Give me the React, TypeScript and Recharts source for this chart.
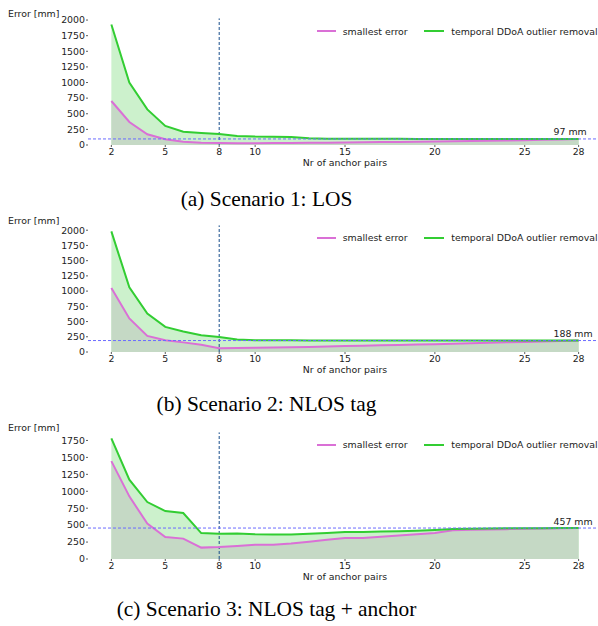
import React from 'react';
import { ComposedChart, Area, Line, XAxis, YAxis, ReferenceLine, ReferenceDot, Legend } from 'recharts';

const anchorPairs = [2, 3, 4, 5, 6, 7, 8, 9, 10, 11, 12, 13, 14, 15, 16, 17, 18, 19, 20, 21, 22, 23, 24, 25, 26, 27, 28];
const xTicks = [2, 5, 8, 10, 15, 20, 25, 28];
const yTicksA = [0, 250, 500, 750, 1000, 1250, 1500, 1750, 2000];
const yTicksC = [0, 250, 500, 750, 1000, 1250, 1500, 1750];

// Scenario 1: LOS
const s1Smallest = [704, 368, 171, 91, 53, 38, 32, 30, 30, 31, 33, 35, 38, 40, 44, 47, 50, 53, 56, 60, 64, 68, 72, 77, 83, 90, 97];
const s1Temporal = [1930, 1000, 570, 305, 212, 192, 176, 145, 135, 132, 128, 108, 102, 100, 100, 99, 99, 98, 98, 98, 97, 97, 97, 97, 97, 97, 97];
const s1Threshold = 97;

// Scenario 2: NLOS tag
const s2Smallest = [1050, 551, 264, 192, 158, 120, 62, 64, 70, 73, 76, 82, 90, 99, 104, 110, 116, 122, 128, 136, 144, 152, 160, 166, 174, 181, 188];
const s2Temporal = [1980, 1061, 632, 412, 338, 275, 246, 204, 194, 192, 191, 190, 189, 189, 188, 188, 188, 188, 188, 188, 188, 188, 188, 188, 188, 188, 188];
const s2Threshold = 188;

// Scenario 3: NLOS tag + anchor
const s3Smallest = [1445, 925, 522, 325, 301, 168, 176, 192, 212, 212, 228, 255, 283, 310, 310, 328, 346, 364, 383, 423, 430, 436, 441, 446, 450, 454, 457];
const s3Temporal = [1780, 1171, 841, 708, 678, 383, 374, 375, 364, 360, 362, 372, 384, 398, 400, 405, 410, 418, 428, 442, 448, 451, 453, 454, 455, 456, 457];
const s3Threshold = 457;

const captions = ['(a) Scenario 1: LOS', '(b) Scenario 2: NLOS tag', '(c) Scenario 3: NLOS tag + anchor'];
const seriesNames = ['smallest error', 'temporal DDoA outlier removal'];

const GREEN = '#32cd32';
const MAGENTA = '#da70d6';
const GREEN_FILL = '#ccf1cc';
const LOW_FILL = '#c5d9c5';
const TEXT = '#222';
const FS = 9.4;

type PanelProps = {
  smallest: number[];
  temporal: number[];
  threshold: number;
  yTicks: number[];
  top: number;
};

const LegendContent = () => (
  <div style={{ position: 'relative', width: 610, height: 0, fontSize: FS, color: TEXT, fontFamily: 'DejaVu Sans' }}>
    <span style={{ position: 'absolute', left: 316.7, top: 30, width: 19, height: 2, background: MAGENTA }} />
    <span style={{ position: 'absolute', left: 342.7, top: 24.5, whiteSpace: 'nowrap', lineHeight: '13px' }}>{seriesNames[0]}</span>
    <span style={{ position: 'absolute', left: 424.3, top: 30, width: 20, height: 2, background: GREEN }} />
    <span style={{ position: 'absolute', left: 451.3, top: 24.5, whiteSpace: 'nowrap', lineHeight: '13px' }}>{seriesNames[1]}</span>
  </div>
);

const Panel = ({ smallest, temporal, threshold, yTicks, top }: PanelProps) => {
  const data = anchorPairs.map((x, i) => ({ x, smallest: smallest[i], temporal: temporal[i] }));
  const yMax = Math.max(...temporal) * 1.05;
  return (
    <div style={{ position: 'absolute', left: 0, top, width: 598, height: 180, overflow: 'hidden' }}>
      <ComposedChart width={610} height={180} data={data} margin={{ top: 18.4, right: 8, bottom: 0, left: 0 }}>
        <XAxis
          type="number"
          dataKey="x"
          domain={[0.7, 29.3]}
          ticks={xTicks}
          interval={0}
          axisLine={false}
          tickSize={2}
          tickMargin={1.3}
          tickLine={{ stroke: '#333', strokeWidth: 0.8 }}
          tick={{ fill: TEXT, fontSize: FS }}
          height={35}
          label={{ value: 'Nr of anchor pairs', position: 'insideBottom', offset: 14, fill: TEXT, fontSize: FS }}
        />
        <YAxis
          type="number"
          domain={[0, yMax]}
          ticks={yTicks}
          interval={0}
          width={88}
          axisLine={false}
          tickSize={2}
          tickMargin={1}
          tickLine={{ stroke: '#333', strokeWidth: 0.8 }}
          tick={{ fill: TEXT, fontSize: FS }}
          label={({ viewBox }: any) => (
            <text x={viewBox.x + 8} y={viewBox.y - 1.4} fill={TEXT} fontSize={FS}>Error [mm]</text>
          )}
        />
        <Area type="linear" dataKey="temporal" fill={GREEN_FILL} fillOpacity={1} stroke="none" isAnimationActive={false} legendType="none" />
        <Area type="linear" dataKey="smallest" fill={LOW_FILL} fillOpacity={1} stroke="none" isAnimationActive={false} legendType="none" />
        <ReferenceLine x={8} stroke="#1a4f8c" strokeWidth={1} strokeDasharray="3 2" />
        <Line type="linear" dataKey="smallest" name={seriesNames[0]} stroke={MAGENTA} strokeWidth={2} dot={false} isAnimationActive={false} />
        <Line type="linear" dataKey="temporal" name={seriesNames[1]} stroke={GREEN} strokeWidth={2} dot={false} isAnimationActive={false} />
        <ReferenceLine y={threshold} stroke="#6b6bff" strokeWidth={1} strokeDasharray="3 2" />
        <ReferenceDot
          x={26.6}
          y={threshold}
          r={0}
          fill="none"
          stroke="none"
          label={({ viewBox }: any) => (
            <text x={viewBox.x} y={viewBox.y - 3.5} fill={TEXT} fontSize={FS} textAnchor="start">{`${threshold} mm`}</text>
          )}
        />
        <Legend layout="vertical" align="center" verticalAlign="middle" content={LegendContent} wrapperStyle={{ position: 'absolute', left: 0, top: 0, width: 610, height: 0 }} />
      </ComposedChart>
    </div>
  );
};

export default function App() {
  return (
    <div style={{ position: 'absolute', left: 0, top: 0, width: 598, height: 626, overflow: 'hidden', background: '#fff', fontFamily: 'DejaVu Sans' }}>
      <Panel smallest={s1Smallest} temporal={s1Temporal} threshold={s1Threshold} yTicks={yTicksA} top={0} />
      <Panel smallest={s2Smallest} temporal={s2Temporal} threshold={s2Threshold} yTicks={yTicksA} top={206.7} />
      <Panel smallest={s3Smallest} temporal={s3Temporal} threshold={s3Threshold} yTicks={yTicksC} top={413.7} />
      <svg width={598} height={626} style={{ position: 'absolute', left: 0, top: 0, pointerEvents: 'none' }}>
        <text x={266.5} y={205.7} textAnchor="middle" fontFamily="Liberation Serif" fontSize={21.4} fill="#000">{captions[0]}</text>
        <text x={266.5} y={411} textAnchor="middle" fontFamily="Liberation Serif" fontSize={21.4} fill="#000">{captions[1]}</text>
        <text x={266.5} y={616} textAnchor="middle" fontFamily="Liberation Serif" fontSize={21.4} fill="#000">{captions[2]}</text>
      </svg>
    </div>
  );
}
